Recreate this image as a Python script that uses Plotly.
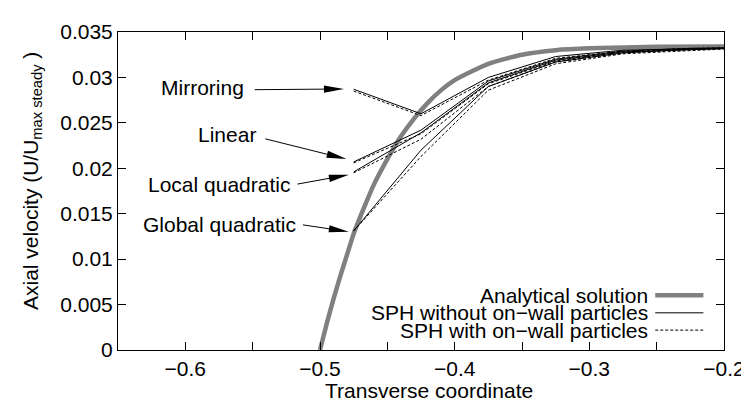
import math
import plotly.graph_objects as go

# ---------------- data ----------------
x_analytic = [-0.5, -0.495, -0.49, -0.485, -0.48, -0.475, -0.47, -0.465, -0.46,
              -0.45, -0.44, -0.43, -0.42, -0.41, -0.40, -0.375, -0.35, -0.325,
              -0.3, -0.25, -0.2]
y_analytic = [0.0, 0.0029, 0.0056, 0.0081, 0.01045, 0.0128, 0.0147, 0.0165, 0.0182,
              0.0210, 0.0235, 0.0255, 0.0272, 0.0286, 0.0297, 0.0315, 0.0325, 0.0330,
              0.0332, 0.03337, 0.0334]

x_sph = [-0.475, -0.425, -0.375, -0.325, -0.275, -0.225, -0.175]
mirror_without = [0.0287, 0.0260, 0.0300, 0.0323, 0.0330, 0.0332, 0.0333]
mirror_with    = [0.0285, 0.0258, 0.0297, 0.0321, 0.0329, 0.0332, 0.0333]
linear_without = [0.0207, 0.0242, 0.0296, 0.0320, 0.0329, 0.0332, 0.0333]
linear_with    = [0.0206, 0.0238, 0.0293, 0.0318, 0.0328, 0.0331, 0.0333]
localq_without = [0.0196, 0.0239, 0.0294, 0.0319, 0.0328, 0.0331, 0.0333]
localq_with    = [0.0195, 0.0232, 0.0290, 0.0317, 0.0327, 0.0331, 0.0333]
globalq_without = [0.0131, 0.0220, 0.0290, 0.0317, 0.0327, 0.0331, 0.0333]
globalq_with    = [0.0131, 0.0213, 0.0286, 0.0315, 0.0326, 0.0330, 0.0333]

x_tickvals = [-0.6, -0.5, -0.4, -0.3, -0.2]
x_ticktext = ["\u22120.6", "\u22120.5", "\u22120.4", "\u22120.3", "\u22120.2"]
x_minor_tickvals = [-0.55, -0.45, -0.35, -0.25]
y_tickvals = [0, 0.005, 0.01, 0.015, 0.02, 0.025, 0.03, 0.035]
y_ticktext = ["0", "0.005", "0.01", "0.015", "0.02", "0.025", "0.03", "0.035"]

x_title = "Transverse coordinate"
y_title = "Axial velocity (U/U<sub>max steady</sub> )"

legend_labels = ["Analytical solution", "SPH without on\u2212wall particles",
                 "SPH with on\u2212wall particles"]

# labels: text, text anchor (x, y), arrow tail (x, y), arrow tip (x, y)
method_labels = ["Mirroring", "Linear", "Local quadratic", "Global quadratic"]
label_text_xy = [(-0.5552, 0.0289), (-0.5457, 0.0237), (-0.5211, 0.01826), (-0.5163, 0.01377)]
label_tail_xy = [(-0.5484, 0.02865), (-0.5406, 0.02324), (-0.5167, 0.01826), (-0.5127, 0.01377)]
label_tip_xy = [(-0.4822, 0.02873), (-0.4803, 0.02101), (-0.4786, 0.01929), (-0.4786, 0.01302)]

# ---------------- style ----------------
FONT = "Liberation Sans, Arial, sans-serif"
FS = 21
GRAY = "rgb(128,128,128)"
W, H = 749, 401
ML, MR, MT, MB = 110, 22, 17, 59
XR = [-0.65, -0.2]
YR = [0, 0.035]
PW, PH = W - ML - MR, H - MT - MB
SX = PW / (XR[1] - XR[0])
SY = PH / (YR[1] - YR[0])
HEAD_L, HEAD_HW = 20, 3.6

fig = go.Figure()
fig.add_trace(go.Scatter(x=x_analytic, y=y_analytic, mode="lines",
                         line=dict(color=GRAY, width=4.5, shape="spline", smoothing=0.6),
                         name=legend_labels[0], showlegend=False))
for ys_solid, ys_dash in [(mirror_without, mirror_with), (linear_without, linear_with),
                          (localq_without, localq_with), (globalq_without, globalq_with)]:
    fig.add_trace(go.Scatter(x=x_sph, y=ys_dash, mode="lines",
                             line=dict(color="black", width=1, dash="3px,2px"),
                             name=legend_labels[2], showlegend=False))
    fig.add_trace(go.Scatter(x=x_sph, y=ys_solid, mode="lines",
                             line=dict(color="black", width=1),
                             name=legend_labels[1], showlegend=False))

annotations = []
shapes = []
for txt, (tx, ty), (ax, ay), (px, py) in zip(method_labels, label_text_xy, label_tail_xy, label_tip_xy):
    annotations.append(dict(x=tx, y=ty, xref="x", yref="y", text=txt, showarrow=False,
                            xanchor="right", yanchor="middle",
                            font=dict(family=FONT, size=FS, color="black")))
    dx = (px - ax) * SX
    dy = (py - ay) * SY
    L = math.hypot(dx, dy)
    ux, uy = dx / L, dy / L
    nx, ny = -uy, ux
    bx, by = -HEAD_L * ux, -HEAD_L * uy
    p1 = (bx + HEAD_HW * nx, by + HEAD_HW * ny)
    p2 = (bx - HEAD_HW * nx, by - HEAD_HW * ny)
    shapes.append(dict(type="line", xref="x", yref="y", x0=ax, y0=ay,
                       x1=px - (HEAD_L - 2) * ux / SX, y1=py - (HEAD_L - 2) * uy / SY,
                       line=dict(color="black", width=1)))
    shapes.append(dict(type="path", xref="x", yref="y", xsizemode="pixel", ysizemode="pixel",
                       xanchor=px, yanchor=py,
                       path=f"M0,0 L{p1[0]:.2f},{p1[1]:.2f} L{p2[0]:.2f},{p2[1]:.2f} Z",
                       fillcolor="black", line=dict(width=0)))

# manual legend (text right-aligned, sample on the right)
leg_text_x = 0.8785
leg_line_x0, leg_line_x1 = 0.8865, 0.966
leg_rows_y = [0.1723, 0.1169, 0.0625]
leg_styles = [dict(color=GRAY, width=4.5), dict(color="black", width=1),
              dict(color="black", width=1, dash="3px,2px")]
for lab, ly, st in zip(legend_labels, leg_rows_y, leg_styles):
    annotations.append(dict(x=leg_text_x, y=ly, xref="paper", yref="paper", text=lab,
                            showarrow=False, xanchor="right", yanchor="middle",
                            font=dict(family=FONT, size=FS, color="black")))
    shapes.append(dict(type="line", xref="paper", yref="paper", x0=leg_line_x0, x1=leg_line_x1,
                       y0=ly, y1=ly, line=st))

# axis titles
annotations.append(dict(x=0.5, y=0, xref="paper", yref="paper", text=x_title,
                        showarrow=False, xanchor="center", yanchor="middle",
                        xshift=8, yshift=-40, borderpad=0,
                        font=dict(family=FONT, size=FS, color="black")))
annotations.append(dict(x=0, y=0.5, xref="paper", yref="paper", text=y_title,
                        showarrow=False, xanchor="center", yanchor="middle", textangle=-90,
                        xshift=-86, yshift=10,
                        font=dict(family=FONT, size=FS, color="black")))

axis_common = dict(ticks="inside", ticklen=8, tickwidth=1, tickcolor="black",
                   showline=True, linecolor="black", linewidth=1, mirror="ticks",
                   showgrid=False, zeroline=False,
                   tickfont=dict(family=FONT, size=FS, color="black"))

fig.update_layout(
    width=W, height=H,
    margin=dict(l=ML, r=MR, t=MT, b=MB),
    paper_bgcolor="white", plot_bgcolor="white",
    font=dict(family=FONT, size=FS, color="black"),
    showlegend=False,
    xaxis=dict(range=XR, tickvals=x_tickvals, ticktext=x_ticktext,
               minor=dict(tickvals=x_minor_tickvals, ticks="inside", ticklen=8,
                          tickwidth=1, tickcolor="black", showgrid=False),
               **axis_common),
    yaxis=dict(range=YR, tickvals=y_tickvals, ticktext=y_ticktext, **axis_common),
    annotations=annotations,
    shapes=shapes,
)

fig.write_html("out.html")
